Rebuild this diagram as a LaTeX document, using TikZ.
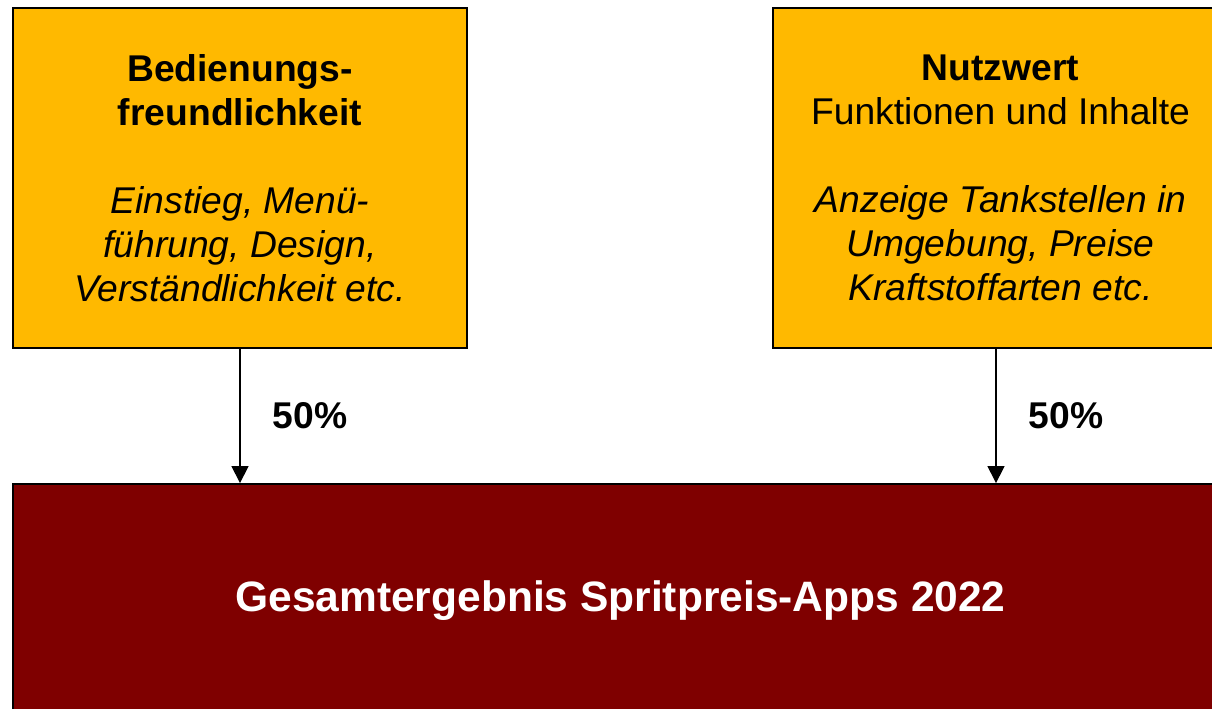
\documentclass[tikz,border=0pt]{standalone}
\usepackage{fontspec}
\setmainfont{Liberation Sans}
\usetikzlibrary{arrows.meta,positioning}
\definecolor{critbox}{HTML}{FFB900}
\definecolor{totalbox}{HTML}{7F0000}

\begin{document}
\begin{tikzpicture}[x=0.02cm, y=-0.02cm,
  cbox/.style={rectangle, draw, line width=1.1pt, fill=#1, minimum width=9.1cm, minimum height=6.8cm, align=center, font=\fontsize{21.2}{25}\selectfont},
  weight/.style={font=\fontsize{21.2}{25}\selectfont\bfseries},
  arr/.style={-{Triangle[width=0.34cm,length=0.34cm]}, line width=0.85pt}
]
  \useasboundingbox (0,0) rectangle (1212,708);
  \clip (0,0) rectangle (1212,708);
  % two criteria on top
  \node[cbox=critbox] (usab) at (240,178) {\textbf{Bedienungs-}\\\textbf{freundlichkeit}\\[25pt]\textit{Einstieg, Menü-}\\\textit{führung, Design,}\\\textit{Verständlichkeit etc.}};
  \node[cbox=critbox] (value) at (1000.5,178) {\textbf{Nutzwert}\\Funktionen und Inhalte\\[25pt]\textit{Anzeige Tankstellen in}\\\textit{Umgebung, Preise}\\\textit{Kraftstoffarten etc.}};
  % overall result
  \node[cbox=totalbox, minimum width=24.3cm, minimum height=4.68cm, text=white, font=\fontsize{24.2}{29}\selectfont\bfseries] (total) at (620.5,601) {Gesamtergebnis Spritpreis-Apps 2022};
  \draw[arr] (usab.south) -- (usab.south |- total.north) node[midway, right=0.52cm, weight] {50\%};
  \draw[arr] (value.south -| 996,0) -- (996,0 |- total.north) node[midway, right=0.52cm, weight] {50\%};
\end{tikzpicture}
\end{document}
